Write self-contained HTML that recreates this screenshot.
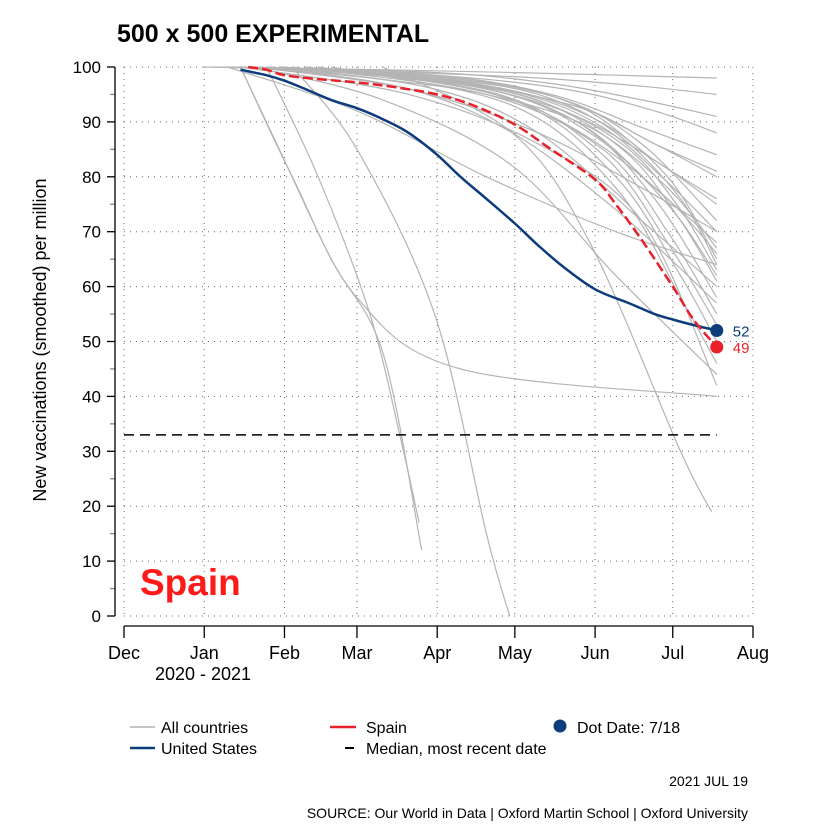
<!DOCTYPE html>
<html><head><meta charset="utf-8"><style>
body{margin:0;background:#fff;}
svg{display:block;font-family:"Liberation Sans",Arial,sans-serif;}
</style></head><body>
<svg id="chart" width="833" height="833" viewBox="0 0 833 833">
<text x="117" y="42" font-size="25" font-weight="bold">500 x 500 EXPERIMENTAL</text>
<g id="grid"></g>
<g id="axes"></g>
<g id="series"></g>
<text x="140" y="595" font-size="37" font-weight="bold" fill="#ff1a1a">Spain</text>
<text transform="translate(46,340) rotate(-90)" text-anchor="middle" font-size="18">New vaccinations (smoothed) per million</text>
<text x="203" y="680" text-anchor="middle" font-size="18">2020 - 2021</text>
<g font-size="16">
<line x1="130" y1="727" x2="155" y2="727" stroke="#b0b0b0" stroke-width="1.5"/>
<text x="161" y="733">All countries</text>
<line x1="330" y1="727" x2="356" y2="727" stroke="#e8212a" stroke-width="2.5"/>
<text x="366" y="733">Spain</text>
<circle cx="560" cy="726" r="6.5" fill="#0c3c7c"/>
<text x="577" y="733">Dot Date: 7/18</text>
<line x1="130" y1="748" x2="155" y2="748" stroke="#0c3c7c" stroke-width="2.5"/>
<text x="161" y="754">United States</text>
<line x1="345" y1="748" x2="354" y2="748" stroke="#000" stroke-width="2"/>
<text x="366" y="754">Median, most recent date</text>
</g>
<text x="748" y="786" text-anchor="end" font-size="14">2021 JUL 19</text>
<text x="748" y="818" text-anchor="end" font-size="14">SOURCE: Our World in Data | Oxford Martin School | Oxford University</text>
</svg>
<script>
const monthLabels=["Dec","Jan","Feb","Mar","Apr","May","Jun","Jul","Aug"];
const monthDays=[0,31,62,90,121,151,182,212,243];
const yTicks=[0,10,20,30,40,50,60,70,80,90,100];
const medianValue=33;
const usDays=[45,55,62,70,80,90,100,110,121,130,140,151,160,170,182,195,205,212,220,229];
const usValues=[99.5,98.5,97.5,96,94,92.5,90.5,88,84,80,76,71.5,67.5,63.5,59.5,57,55,54,53,52];
const spainDays=[48,55,62,75,90,105,121,135,151,165,182,190,200,212,220,229];
const spainValues=[100,99.5,98.5,97.8,97.2,96.3,95,93,89.5,85,79.5,75,68.5,60,54,49];
const grayDays=[
[30,100,150,190,229],[35,110,160,200,229],[40,120,170,205,229],[40,120,165,200,229],
[45,125,170,205,229],[45,120,165,200,229],[50,130,175,205,229],[50,125,170,200,229],
[55,130,175,205,229],[55,135,180,210,229],[60,140,180,210,229],[60,130,175,205,229],
[65,140,185,210,229],[70,145,185,210,229],[75,150,190,215,229],[80,150,190,215,229],
[60,120,160,200,229],[55,110,150,190,229],[50,100,150,190,229],[45,110,160,200,229],
[45,60,80,100,115],[45,65,90,130,229],[55,75,95,107,114],[65,90,120,140,149],
[100,150,180,215,227],[40,90,140,190,229],[50,110,160,200,229],
[40,100,140,175,205,229],[50,110,150,180,210,229],[60,120,160,190,215,229],
[55,115,155,185,210,229],[45,105,145,180,205,229],[70,130,165,195,215,229],
[60,125,165,195,215,229],[50,95,140,180,210,229]];
const grayValues=[
[100,99.5,99,98.5,98],[100,99,98,96.5,95],[100,98.5,96,92,88],[100,99,97,94,91],
[100,98,94,86,80],[100,98.5,95,89,84],[100,98,93,83,76],[100,98,94,86,72],
[100,97,90,78,68],[100,97,91,80,65],[100,96,88,75,62],[100,97,90,76,58],
[100,95,85,70,55],[100,95,84,68,53],[100,94,80,62,50],[100,93,78,58,46],
[100,96,88,72,60],[100,96,88,74,57],[100,94,82,62,44],[100,95,86,72,42],
[100,85,65,48,12],[100,80,58,45,40],[100,80,55,32,17],[100,85,55,15,0],
[100,88,68,30,19],[100,92,80,70,64],[100,96,88,78,70],
[100,98.5,96,91,83,75],[100,98,94,87,76,66],[100,98,95,88,76,64],
[100,98,95,89,79,70],[100,98.5,96,92,86,81],[100,97,93,84,72,61],
[100,97.5,93,85,74,63],[100,98,95,89,78,67]];
const X=d=>124+d*(753-124)/243;
const Y=v=>616-v*5.49;
const NS="http://www.w3.org/2000/svg";
function mk(tag,attrs,parent){const e=document.createElementNS(NS,tag);for(const k in attrs)e.setAttribute(k,attrs[k]);parent.appendChild(e);return e;}
const grid=document.getElementById('grid'),axes=document.getElementById('axes'),series=document.getElementById('series');
yTicks.forEach(v=>{
 const l=mk('line',{x1:124,x2:753,y1:Y(v),y2:Y(v),stroke:'#666','stroke-dasharray':'1,5','stroke-width':1},grid);
 
 
 const t=mk('line',{x1:107,x2:115,y1:Y(v),y2:Y(v),stroke:'#000','stroke-width':1.3},axes);
 
 
 const tx=mk('text',{x:101,y:Y(v)+6,'text-anchor':'end','font-size':17},axes);
 tx.textContent=v;
 
 
 if(v<100){const m=mk('line',{x1:110,x2:115,y1:Y(v+5),y2:Y(v+5),stroke:'#888','stroke-width':1.3},axes);
 
 }
});
monthDays.forEach((d,i)=>{
 const g=mk('line',{x1:X(d),x2:X(d),y1:Y(100),y2:Y(0),stroke:'#666','stroke-dasharray':'1,5','stroke-width':1},grid);
 
 
 const t=mk('line',{x1:X(d),x2:X(d),y1:626,y2:638,stroke:'#000','stroke-width':1.3},axes);
 
 
 const tx=mk('text',{x:X(d),y:659,'text-anchor':'middle','font-size':18},axes);
 tx.textContent=monthLabels[i];
 
 
});
const ya=mk('line',{x1:115,x2:115,y1:Y(100),y2:Y(0),stroke:'#000','stroke-width':1.3},axes);


const xa=mk('line',{x1:X(0),x2:X(243),y1:626,y2:626,stroke:'#000','stroke-width':1.3},axes);


function path(ds,vs){
 const P=ds.map((d,i)=>[X(d),Y(vs[i])]);
 let s='M'+P[0][0].toFixed(1)+','+P[0][1].toFixed(1);
 for(let i=0;i<P.length-1;i++){
  const p0=P[i-1]||P[i],p1=P[i],p2=P[i+1],p3=P[i+2]||p2;
  const c1=[p1[0]+(p2[0]-p0[0])/6,p1[1]+(p2[1]-p0[1])/6],c2=[p2[0]-(p3[0]-p1[0])/6,p2[1]-(p3[1]-p1[1])/6];
  s+='C'+c1.map(n=>n.toFixed(1))+' '+c2.map(n=>n.toFixed(1))+' '+p2.map(n=>n.toFixed(1));
 }
 return s;
}
grayDays.forEach((ds,i)=>{
 const p=mk('path',{d:path(ds,grayValues[i]),fill:'none',stroke:'#b4b4b4','stroke-width':1.2},series);
 
 
});
const med=mk('line',{x1:X(0),x2:X(229),y1:Y(medianValue),y2:Y(medianValue),stroke:'#000','stroke-width':1.5,'stroke-dasharray':'10,6'},series);


const us=mk('path',{d:path(usDays,usValues),fill:'none',stroke:'#0c3c7c','stroke-width':2.5},series);


const sp=mk('path',{d:path(spainDays,spainValues),fill:'none',stroke:'#e8212a','stroke-width':2.5,'stroke-dasharray':'10,4'},series);


const ul=usValues.length-1,sl=spainValues.length-1;
const ud=mk('circle',{cx:X(usDays[ul]),cy:Y(usValues[ul]),r:6.5,fill:'#0c3c7c'},series);


const sd=mk('circle',{cx:X(spainDays[sl]),cy:Y(spainValues[sl]),r:6.5,fill:'#e8212a'},series);


const ut=mk('text',{x:X(usDays[ul])+16,y:Y(usValues[ul])+6,'font-size':15,fill:'#0c3c7c'},series);
ut.textContent=Math.round(usValues[ul]);


const st=mk('text',{x:X(spainDays[sl])+16,y:Y(spainValues[sl])+6,'font-size':15,fill:'#e8212a'},series);
st.textContent=Math.round(spainValues[sl]);


</script>
</body></html>
